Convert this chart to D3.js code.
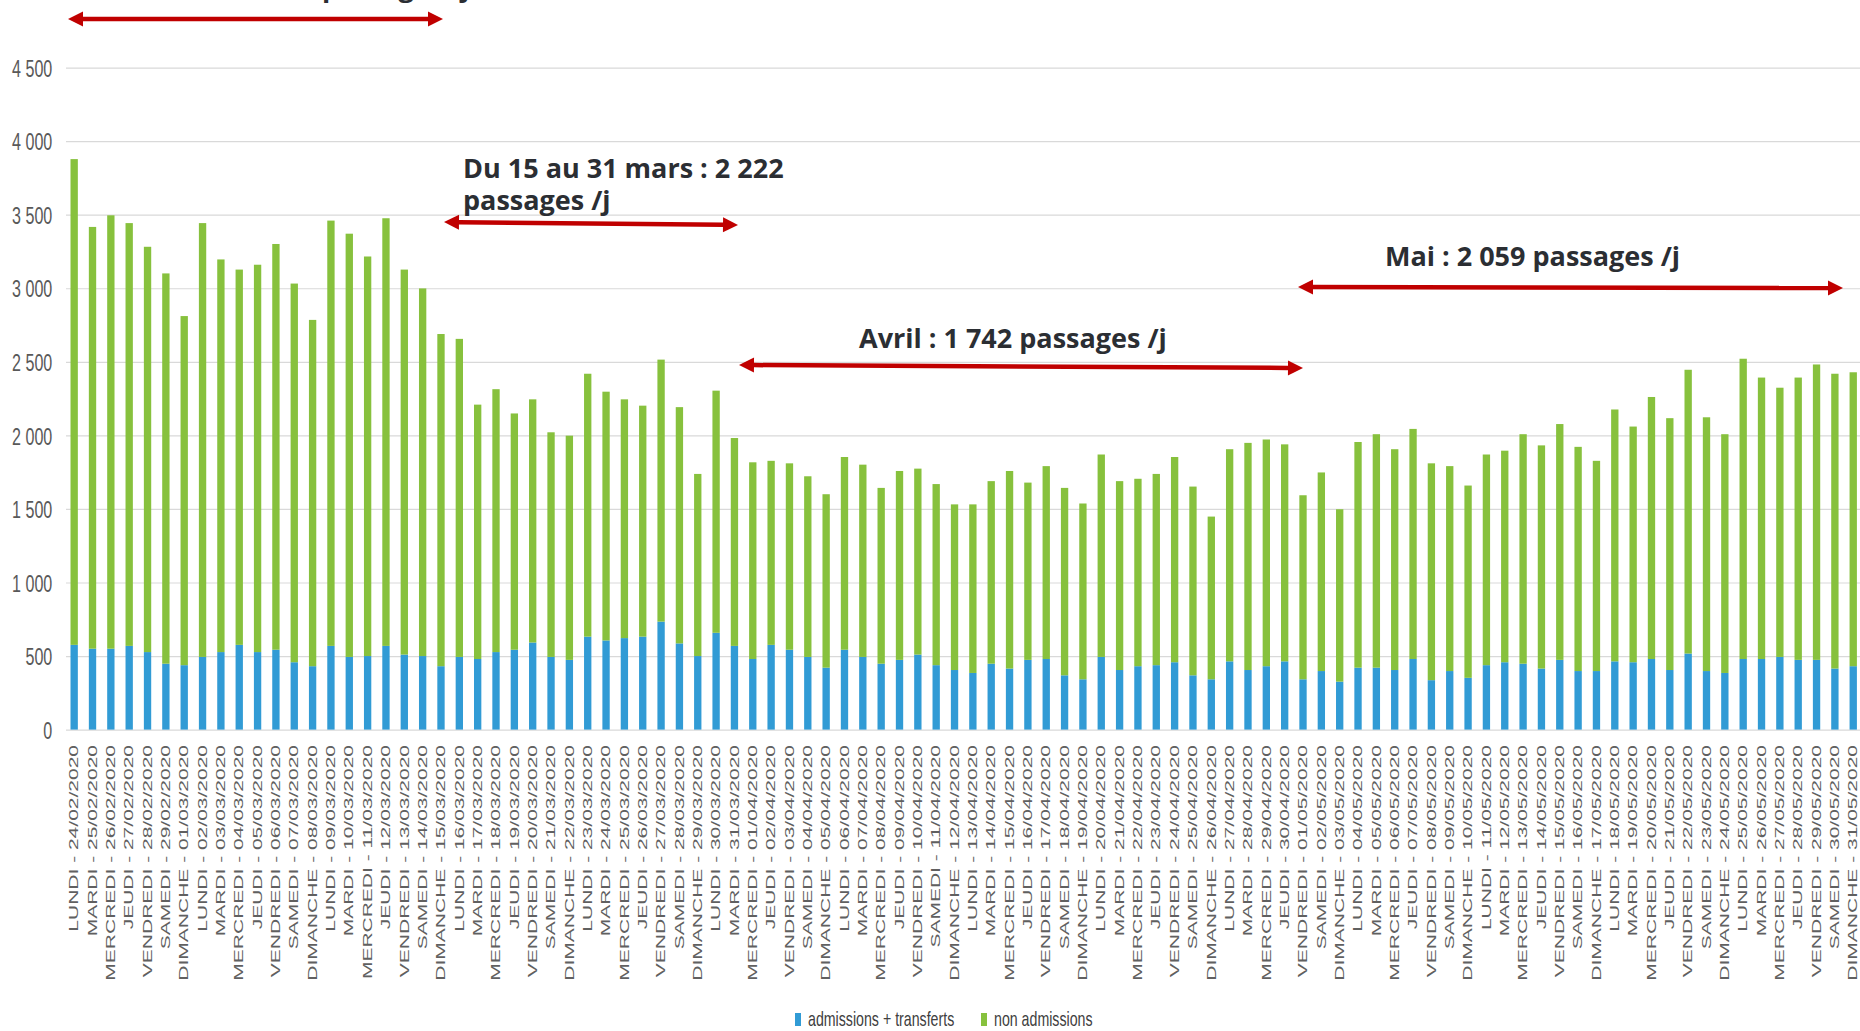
<!DOCTYPE html>
<html>
<head>
<meta charset="utf-8">
<script src="https://cdn.jsdelivr.net/npm/d3@7"></script>
<style>
  body { margin: 0; background: #fff; }
  svg { display: block; }
</style>
</head>
<body>
<script>
// categories: every day from 24/02/2020 to 31/05/2020
var dayNames = ["LUNDI", "MARDI", "MERCREDI", "JEUDI", "VENDREDI", "SAMEDI", "DIMANCHE"];
var firstDay = new Date(2020, 1, 24);
var lastDay = new Date(2020, 5, 1);

// series values (passages per day)
var admissions = [
  576, 550, 550, 569, 527, 448, 438, 494, 527, 576, 527, 543, 458, 431, 569, 494, 500, 569, 510, 500,
  431, 494, 480, 527, 543, 592, 494, 474, 632, 606, 622, 632, 734, 586, 500, 658, 569,
  480, 576, 543, 494, 421, 543, 494, 448, 474, 510, 438, 405, 385, 448, 415, 474, 480, 369, 342,
  494, 405, 431, 438, 458, 369, 342, 464, 405, 431, 464,
  342, 398, 326, 421, 421, 405, 480, 336, 398, 352, 438, 458, 448, 415, 474, 398, 398, 464, 458,
  480, 405, 517, 398, 385, 480, 480, 494, 474, 474, 415, 431
];
var nonAdmissions = [
  3302, 2867, 2946, 2874, 2755, 2653, 2373, 2949, 2669, 2551, 2633, 2758, 2574, 2354, 2891, 2877, 2716, 2907, 2617, 2499,
  2258, 2162, 1729, 1787, 1606, 1653, 1527, 1524, 1787, 1691, 1623, 1570, 1781, 1606, 1238, 1646, 1413,
  1337, 1251, 1267, 1228, 1179, 1310, 1307, 1195, 1284, 1264, 1231, 1126, 1146, 1241, 1343, 1205, 1311, 1274, 1195,
  1376, 1284, 1274, 1300, 1395, 1283, 1106, 1442, 1544, 1541, 1475,
  1251, 1350, 1172, 1534, 1587, 1501, 1564, 1474, 1393, 1307, 1432, 1438, 1560, 1517, 1603, 1524, 1429, 1712, 1602,
  1781, 1712, 1929, 1725, 1623, 2041, 1913, 1830, 1919, 2008, 2004, 1998
];
var seriesKeys = ["adm", "non"];
var seriesNames = ["admissions + transferts", "non admissions"];
var seriesColors = ["#319bd5", "#87c13d"];
var yTicks = [0, 500, 1000, 1500, 2000, 2500, 3000, 3500, 4000, 4500];

// period annotations
var notes = [
  {lines: ["passages /j"], x: 322, y: -3, arrow: [68, 19, 443, 19]},
  {lines: ["Du 15 au 31 mars : 2 222", "passages /j"], x: 463, y: 178, arrow: [444, 222, 738, 225]},
  {lines: ["Avril : 1 742 passages /j"], x: 859, y: 348, arrow: [739, 365, 1303, 368]},
  {lines: ["Mai : 2 059 passages /j"], x: 1385, y: 266, arrow: [1298, 287, 1843, 288]}
];

var width = 1860, height = 1031;

var fmtDate = d3.timeFormat("%d/%m/%Y");
var days = d3.timeDay.range(firstDay, lastDay);
var labels = days.map(function(d, i) { return dayNames[i % 7] + " - " + fmtDate(d); });

var data = labels.map(function(l, i) {
  return {label: l, adm: admissions[i], non: nonAdmissions[i]};
});

var x = d3.scaleBand()
    .domain(labels)
    .range([65, 1862.4])
    .paddingInner(0.6)
    .paddingOuter(0.3);
var y = d3.scaleLinear()
    .domain([0, 4500])
    .range([729.6, 67.6]);
var color = d3.scaleOrdinal().domain(seriesKeys).range(seriesColors);

var svg = d3.select("body").append("svg")
    .attr("width", width)
    .attr("height", height)
    .style("font-family", "'Liberation Sans', Arial, sans-serif");

// y axis with gridlines
var fr = d3.formatLocale({decimal: ",", thousands: " ", grouping: [3], currency: ["", " €"]});
var yAxis = svg.append("g")
    .attr("transform", "translate(66,0)")
    .call(d3.axisLeft(y).tickValues(yTicks).tickSize(-(width - 66)).tickFormat(fr.format(",d")));
yAxis.select(".domain").remove();
yAxis.selectAll(".tick line").attr("stroke", "#d9d9d9").attr("stroke-width", 1.2);
yAxis.selectAll(".tick text")
    .attr("x", -20.5)
    .attr("dy", "0.36em")
    .attr("transform", "scale(0.67,1)")
    .attr("fill", "#595959")
    .attr("font-size", 24)
    .attr("font-family", "'Liberation Sans', Arial, sans-serif");

// stacked bars
var stacked = d3.stack().keys(seriesKeys)(data);
svg.append("g").selectAll("g")
    .data(stacked)
    .enter().append("g")
    .attr("fill", function(d) { return color(d.key); })
    .selectAll("rect")
    .data(function(d) { return d; })
    .enter().append("rect")
    .attr("x", function(d) { return x(d.data.label); })
    .attr("width", x.bandwidth())
    .attr("y", function(d) { return y(d[1]); })
    .attr("height", function(d) { return y(d[0]) - y(d[1]); });

// x axis, rotated day labels
var xAxis = svg.append("g")
    .attr("transform", "translate(0," + y(0) + ")")
    .call(d3.axisBottom(x).tickSize(0).tickPadding(0));
xAxis.select(".domain").remove();
xAxis.selectAll(".tick text")
    .attr("text-anchor", "end")
    .attr("x", -8.8)
    .attr("y", 0)
    .attr("dy", "0.35em")
    .attr("transform", "rotate(-90) scale(1.75,1)")
    .attr("fill", "#606060")
    .attr("font-size", 12)
    .attr("font-family", "'Liberation Sans', Arial, sans-serif");

// legend
var legendX = [795, 981];
var legend = svg.append("g").selectAll("g")
    .data(seriesNames)
    .enter().append("g")
    .attr("transform", function(d, i) { return "translate(" + legendX[i] + ",1013)"; });
legend.append("rect")
    .attr("width", 6)
    .attr("height", 13)
    .attr("fill", function(d, i) { return seriesColors[i]; });
legend.append("text")
    .attr("transform", "translate(13,12.5) scale(0.71,1)")
    .attr("font-size", 20)
    .attr("fill", "#404040")
    .text(function(d) { return d; });

// arrows and period texts
var red = "#c00000";
function arrow(a) {
  var x1 = a[0], y1 = a[1], x2 = a[2], y2 = a[3];
  var ang = Math.atan2(y2 - y1, x2 - x1);
  var L = 15, W = 7.5;
  var g = svg.append("g");
  g.append("line")
      .attr("x1", x1 + L * Math.cos(ang)).attr("y1", y1 + L * Math.sin(ang))
      .attr("x2", x2 - L * Math.cos(ang)).attr("y2", y2 - L * Math.sin(ang))
      .attr("stroke", red).attr("stroke-width", 4.5);
  [[x1, y1, ang + Math.PI], [x2, y2, ang]].forEach(function(p) {
    var tx = p[0], ty = p[1], t = p[2];
    var bx = tx - L * Math.cos(t), by = ty - L * Math.sin(t);
    var pts = [
      [tx, ty],
      [bx + W * Math.sin(t), by - W * Math.cos(t)],
      [bx - W * Math.sin(t), by + W * Math.cos(t)]
    ];
    g.append("path").attr("d", d3.line()(pts) + "Z").attr("fill", red);
  });
}

notes.forEach(function(n) {
  arrow(n.arrow);
  n.lines.forEach(function(l, i) {
    svg.append("text")
        .attr("x", n.x)
        .attr("y", n.y + i * 31.5)
        .attr("fill", "#2b2e33")
        .attr("font-family", "'Open Sans', sans-serif")
        .attr("font-weight", 700)
        .attr("font-size", 27)
        .text(l);
  });
});
</script>
</body>
</html>
